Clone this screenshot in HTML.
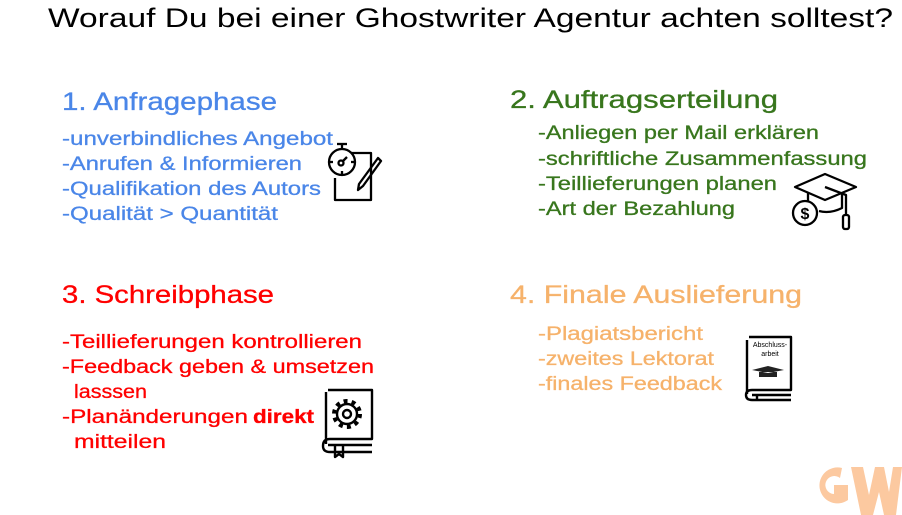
<!DOCTYPE html>
<html><head><meta charset="utf-8"><style>
html,body{margin:0;padding:0;background:#fff;width:902px;height:515px;overflow:hidden}
svg{display:block}
text{font-family:"Liberation Sans",sans-serif}
</style></head><body>
<svg width="902" height="515" viewBox="0 0 902 515" xmlns="http://www.w3.org/2000/svg">
<text x="48" y="27" font-size="27" fill="#000" textLength="845" lengthAdjust="spacingAndGlyphs">Worauf Du bei einer Ghostwriter Agentur achten solltest?</text>

<g fill="#4a86e8" stroke="#4a86e8" stroke-width="0.3">
<text x="62" y="110" font-size="25" textLength="215" lengthAdjust="spacingAndGlyphs">1. Anfragephase</text>
<text x="62" y="145" font-size="19" textLength="271" lengthAdjust="spacingAndGlyphs">-unverbindliches Angebot</text>
<text x="62" y="170" font-size="19" textLength="240" lengthAdjust="spacingAndGlyphs">-Anrufen &amp; Informieren</text>
<text x="62" y="195" font-size="19" textLength="259" lengthAdjust="spacingAndGlyphs">-Qualifikation des Autors</text>
<text x="62" y="220" font-size="19" textLength="216" lengthAdjust="spacingAndGlyphs">-Qualität &gt; Quantität</text>
</g>
<g fill="#38761d" stroke="#38761d" stroke-width="0.3">
<text x="510" y="108" font-size="25" textLength="268" lengthAdjust="spacingAndGlyphs">2. Auftragserteilung</text>
<text x="538" y="139" font-size="19" textLength="281" lengthAdjust="spacingAndGlyphs">-Anliegen per Mail erklären</text>
<text x="538" y="165" font-size="19" textLength="329" lengthAdjust="spacingAndGlyphs">-schriftliche Zusammenfassung</text>
<text x="538" y="190" font-size="19" textLength="239" lengthAdjust="spacingAndGlyphs">-Teillieferungen planen</text>
<text x="538" y="215" font-size="19" textLength="197" lengthAdjust="spacingAndGlyphs">-Art der Bezahlung</text>
</g>
<g fill="#ff0000" stroke="#ff0000" stroke-width="0.3">
<text x="62" y="303" font-size="25" textLength="212" lengthAdjust="spacingAndGlyphs">3. Schreibphase</text>
<text x="62" y="348" font-size="19" textLength="300" lengthAdjust="spacingAndGlyphs">-Teillieferungen kontrollieren</text>
<text x="62" y="373" font-size="19" textLength="312" lengthAdjust="spacingAndGlyphs">-Feedback geben &amp; umsetzen</text>
<text x="74" y="398" font-size="19" textLength="73" lengthAdjust="spacingAndGlyphs">lasssen</text>
<text x="62" y="423" font-size="19" textLength="186" lengthAdjust="spacingAndGlyphs">-Planänderungen</text>
<text x="253" y="423" font-size="19" font-weight="bold" textLength="61" lengthAdjust="spacingAndGlyphs">direkt</text>
<text x="74" y="448" font-size="19" textLength="92" lengthAdjust="spacingAndGlyphs">mitteilen</text>
</g>
<g fill="#f6b26b" stroke="#f6b26b" stroke-width="0.3">
<text x="510" y="303" font-size="25" textLength="292" lengthAdjust="spacingAndGlyphs">4. Finale Auslieferung</text>
<text x="538" y="340" font-size="19" textLength="165" lengthAdjust="spacingAndGlyphs">-Plagiatsbericht</text>
<text x="538" y="365" font-size="19" textLength="176" lengthAdjust="spacingAndGlyphs">-zweites Lektorat</text>
<text x="538" y="390" font-size="19" textLength="184" lengthAdjust="spacingAndGlyphs">-finales Feedback</text>
</g>

<!-- notepad icon -->
<g fill="none" stroke="#000" stroke-width="2.3" stroke-linejoin="round">
<path d="M348 153 H371 V200 H335 V178"/>
<circle cx="342" cy="162" r="13" fill="#fff"/>
<line x1="342" y1="149" x2="342" y2="145"/><line x1="337" y1="144" x2="347" y2="144"/>
<line x1="329" y1="162" x2="333" y2="162"/><line x1="351" y1="162" x2="355" y2="162"/>
<line x1="342" y1="171" x2="342" y2="175"/>
<circle cx="341" cy="163" r="2.5"/><line x1="343" y1="161" x2="347" y2="157"/>
<path d="M378 158 L381 161 L363 186 L358 190 L359 184 Z"/>
</g>
<!-- grad cap -->
<g fill="none" stroke="#000" stroke-width="2.3" stroke-linejoin="round">
<path d="M795 187 L825 174 L856 187 L825 200 Z"/>
<path d="M808 193 V204 M842 193 V208 Q830 214 819 211"/>
<path d="M825 187 L846 195 V215"/>
<rect x="843" y="215" width="6" height="14" rx="2"/>
<circle cx="805" cy="213" r="12" fill="#fff"/>
</g>
<text x="805" y="219" font-size="16" font-weight="bold" text-anchor="middle" fill="#000">$</text>
<!-- gear book -->
<g fill="none" stroke="#000" stroke-width="2.4" stroke-linejoin="round">
<path d="M328 390 H372 V439 H330 Q323 439 323 446 Q323 452 330 452 H372 M326 392 V444"/>
<path d="M328 445 H372 M335 446 V457 L339 454 L343 457 V446"/>
<circle cx="347" cy="414" r="13" stroke-width="4" stroke-dasharray="4 4.2"/>
<circle cx="347" cy="414" r="10"/>
<circle cx="347" cy="414" r="4"/>
</g>
<!-- abschluss book -->
<g fill="none" stroke="#000" stroke-width="2.4" stroke-linejoin="round">
<path d="M749 337 H791 V390 H752 Q746 390 746 395 Q746 400 752 400 H791 M747 340 V394"/>
<path d="M752 395 H791 M757 396 V401"/>
</g>
<text x="770" y="347" font-size="7" text-anchor="middle" fill="#000">Abschluss-</text>
<text x="770" y="356" font-size="7" text-anchor="middle" fill="#000">arbeit</text>
<path d="M752 370 L768 366 L784 370 L768 373 Z M759 372 V377 H777 V372" fill="#222"/>
<!-- GW logo -->
<g fill="#fcc9a0">
<path d="M842 468 A18 18 0 1 0 848 500 V485 H834 V494 A9 9 0 1 1 840 478 Z"/>
<path d="M851 467 H863 L869 495 L875 467 H884 L889 492 L893 467 H902 L896 515 H884 L879 492 L873 515 H861 Z"/>
</g>
</svg>
</body></html>
